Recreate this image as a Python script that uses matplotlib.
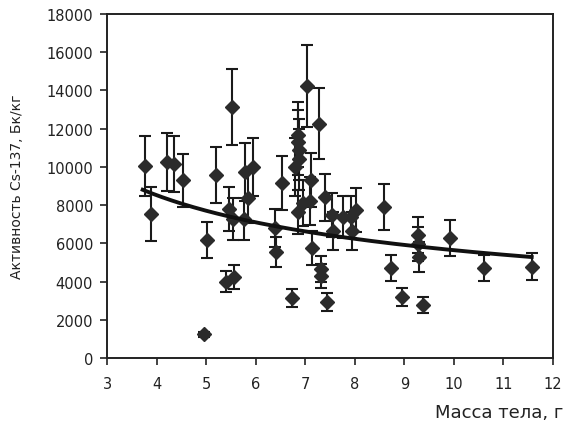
import matplotlib
matplotlib.use("Agg")
import matplotlib.pyplot as plt
import numpy as np

plt.rcParams['font.family'] = ['DejaVu Sans']

mass = [3.77, 3.89, 4.21, 4.35, 4.53, 5.20, 5.02, 5.52, 5.40, 5.56,
        4.96, 5.46, 5.54, 5.76, 5.78, 5.94, 5.84, 6.39, 6.41, 6.53,
        6.73, 6.85, 6.86, 6.87, 6.87, 6.80, 6.85, 6.95, 7.03, 7.09,
        7.11, 7.13, 7.27, 7.31, 7.31, 7.44, 7.40, 7.54, 7.56, 7.76,
        7.92, 8.02, 7.94, 8.58, 8.73, 8.95, 9.27, 9.27, 9.29, 9.37,
        9.92, 10.60, 11.57]
activity = [10050, 7540, 10260, 10150, 9300, 9580, 6170, 13130, 4000, 4240,
            1230, 7800, 7250, 7250, 9730, 10000, 8370, 6800, 5550, 9160,
            3140, 11670, 11300, 10900, 10400, 10000, 7640, 8100, 14230, 8200,
            9310, 5760, 12260, 4660, 4290, 2930, 8400, 7500, 6650, 7380,
            7400, 7750, 6650, 7900, 4710, 3190, 6450, 5950, 5280, 2770,
            6280, 4710, 4780]
errors = [1550, 1400, 1500, 1450, 1400, 1450, 950, 2000, 550, 650,
          150, 1150, 1100, 1100, 1500, 1500, 1300, 1000, 800, 1400,
          450, 1700, 1700, 1600, 1600, 1500, 1150, 1200, 2150, 1250,
          1400, 900, 1850, 700, 650, 450, 1250, 1150, 1000, 1100,
          1100, 1150, 1000, 1200, 700, 480, 950, 900, 800, 420,
          940, 700, 720]

# power-law trend: y = a * x^b
fit_a = 15900
fit_b = -0.45
fit_range = [3.72, 11.57]

x_ticks = [3, 4, 5, 6, 7, 8, 9, 10, 11, 12]
y_ticks = [0, 2000, 4000, 6000, 8000, 10000, 12000, 14000, 16000, 18000]

fig = plt.figure(figsize=(5.67, 4.31), dpi=100)
ax = fig.add_axes([107/567, 72/431, 446/567, 344/431])

ax.errorbar(mass, activity, yerr=errors, fmt='D', color='#2b2b2b',
            ecolor='#1a1a1a', elinewidth=1.5, capsize=4.5, capthick=1.5,
            markersize=7, zorder=3)

xf = np.linspace(fit_range[0], fit_range[1], 200)
ax.plot(xf, fit_a * xf ** fit_b, color='#111111', lw=2.8, zorder=4)

ax.set_xlim(3, 12)
ax.set_ylim(0, 18000)
ax.set_xticks(x_ticks)
ax.set_yticks(y_ticks)
ax.tick_params(direction='out', length=5, width=1.2, labelsize=10.5,
               colors='#222222')
ax.tick_params(axis='x', pad=8)
ax.tick_params(axis='y', pad=5)
for s in ax.spines.values():
    s.set_linewidth(1.4)
    s.set_color('#222222')

ax.set_ylabel('Активность Cs-137, Бк/кг', fontsize=10, color='#222222',
              labelpad=16)
fig.text(563/567, 1 - 413/431, 'Масса тела, г', ha='right', va='center',
         fontsize=13, color='#222222')

fig.savefig('out.png', dpi=100)
